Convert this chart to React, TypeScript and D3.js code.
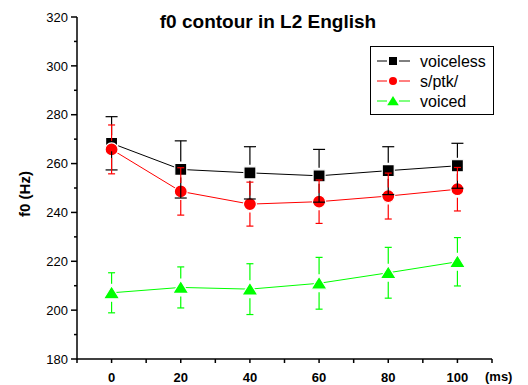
import React from "react"
import * as d3 from "d3"

// time points (ms) and mean f0 (Hz) with error bars
const times = [0, 20, 40, 60, 80, 100]
const voiceless = [268.3, 257.6, 256.2, 255.0, 257.1, 259.1]
const voicelessErr = [10.9, 11.7, 10.7, 10.8, 9.8, 9.2]
const sptk = [265.8, 248.6, 243.4, 244.4, 246.7, 249.5]
const sptkErr = [10.0, 9.7, 9.0, 8.9, 9.4, 8.9]
const voiced = [207.1, 209.3, 208.6, 211.0, 215.3, 219.8]
const voicedErr = [8.2, 8.4, 10.4, 10.6, 10.4, 9.9]
const seriesNames = ["voiceless", "s/ptk/", "voiced"]
const yTicks = [180, 200, 220, 240, 260, 280, 300, 320]
const xTicks = [0, 20, 40, 60, 80, 100]

const width = 528
const height = 385
const margin = {top: 17, right: 36, bottom: 26, left: 77}
const font = "Liberation Sans, Arial, sans-serif"

type Marker = "square" | "circle" | "triangle"

const series = [
    {name: seriesNames[0], values: voiceless, err: voicelessErr, color: "#000000", marker: "square" as Marker, cap: 12, half: 6},
    {name: seriesNames[1], values: sptk, err: sptkErr, color: "#ff0000", marker: "circle" as Marker, cap: 7, half: 6.5},
    {name: seriesNames[2], values: voiced, err: voicedErr, color: "#00ff00", marker: "triangle" as Marker, cap: 7, half: 7},
]

const x = d3.scaleLinear().domain([-10, 110]).range([margin.left, width - margin.right])
const y = d3.scaleLinear().domain([180, 320]).range([height - margin.bottom, margin.top])

const markerPath = (kind: Marker, cx: number, cy: number, s: number) => {
    if (kind === "square") return `M${cx - s},${cy - s}h${2 * s}v${2 * s}h${-2 * s}Z`
    if (kind === "circle") {
        const p = d3.path()
        p.arc(cx, cy, s, 0, Math.PI * 2)
        return p.toString()
    }
    // triangle, apex up
    return `M${cx},${cy - s}L${cx + s * 1.15},${cy + s * 0.85}L${cx - s * 1.15},${cy + s * 0.85}Z`
}

const App = () => {
    const line = d3.line<number>()
        .x((_, i) => x(times[i]))
        .y(d => y(d))

    const minorY = d3.range(190, 320, 20)
    const minorX = d3.range(-10, 111, 10).filter(v => !xTicks.includes(v))

    return (
        <svg width={width} height={height} style={{position: "absolute", left: 0, top: 0, display: "block"}}
             fontFamily={font}>
            <rect width={width} height={height} fill="#fff"/>

            {/* title */}
            <text x={268} y={28} textAnchor="middle" fontSize={19} fontWeight="bold">f0 contour in L2 English</text>

            {/* lines */}
            {series.map(s => (
                <path key={s.name + "-line"} d={line(s.values) || ""} fill="none" stroke={s.color} strokeWidth={1}/>
            ))}

            {/* markers */}
            {series.map(s => s.values.map((v, i) => (
                <path key={s.name + "-m" + i} d={markerPath(s.marker, x(times[i]), y(v), s.half)}
                      fill={s.color} stroke="#fff" strokeWidth={1.2}/>
            )))}

            {/* error bars, starting at the marker edge */}
            {series.map(s => s.values.map((v, i) => {
                const cx = x(times[i])
                const cy = y(v)
                const top = y(v + s.err[i])
                const bot = y(v - s.err[i])
                const g = s.half + 2
                return (
                    <g key={s.name + "-e" + i} stroke={s.color} strokeWidth={1.2}>
                        <line x1={cx} x2={cx} y1={cy - g} y2={top}/>
                        <line x1={cx} x2={cx} y1={cy + g} y2={bot}/>
                        <line x1={cx - s.cap / 2} x2={cx + s.cap / 2} y1={top} y2={top}/>
                        <line x1={cx - s.cap / 2} x2={cx + s.cap / 2} y1={bot} y2={bot}/>
                    </g>
                )
            }))}

            {/* y axis */}
            <g stroke="#000" strokeWidth={1.5}>
                <line x1={margin.left} x2={margin.left} y1={margin.top} y2={height - margin.bottom + 0.75}/>
                {yTicks.map(t => <line key={"yt" + t} x1={margin.left - 6} x2={margin.left} y1={y(t)} y2={y(t)}/>)}
                {minorY.map(t => <line key={"ym" + t} x1={margin.left - 3} x2={margin.left} y1={y(t)} y2={y(t)}/>)}
            </g>
            {yTicks.map(t => (
                <text key={"yl" + t} x={margin.left - 9} y={y(t)} dy="0.36em" textAnchor="end" fontSize={13}>{t}</text>
            ))}
            <text transform={`translate(25,194) rotate(-90)`} textAnchor="middle" dy="0.35em" fontSize={15}
                  fontWeight="bold">f0 (Hz)</text>

            {/* x axis */}
            <g stroke="#000" strokeWidth={1.5}>
                <line x1={margin.left} x2={width - margin.right} y1={y(180)} y2={y(180)}/>
                {xTicks.map(t => <line key={"xt" + t} x1={x(t)} x2={x(t)} y1={y(180)} y2={y(180) + 4}/>)}
                {minorX.map(t => <line key={"xm" + t} x1={x(t)} x2={x(t)} y1={y(180)} y2={y(180) + 4}/>)}
            </g>
            {xTicks.map(t => (
                <text key={"xl" + t} x={x(t)} y={382} textAnchor="middle" fontSize={13} fontWeight="bold">{t}</text>
            ))}
            <text x={485} y={381} fontSize={13} fontWeight="bold">(ms)</text>

            {/* legend */}
            <rect x={370.5} y={46.5} width={123} height={68} fill="#fff" stroke="#000" strokeWidth={1}/>
            {series.map((s, i) => {
                const ly = 61 + i * 20
                return (
                    <g key={"lg" + s.name}>
                        <line x1={377} x2={387} y1={ly} y2={ly} stroke={s.color} strokeWidth={1}/>
                        <line x1={399} x2={410} y1={ly} y2={ly} stroke={s.color} strokeWidth={1}/>
                        <path d={markerPath(s.marker, 393, ly, s.marker === "triangle" ? 5 : 4)} fill={s.color}/>
                        <text x={420} y={ly} dy="0.36em" fontSize={16}>{s.name}</text>
                    </g>
                )
            })}
        </svg>
    )
}

export default App
